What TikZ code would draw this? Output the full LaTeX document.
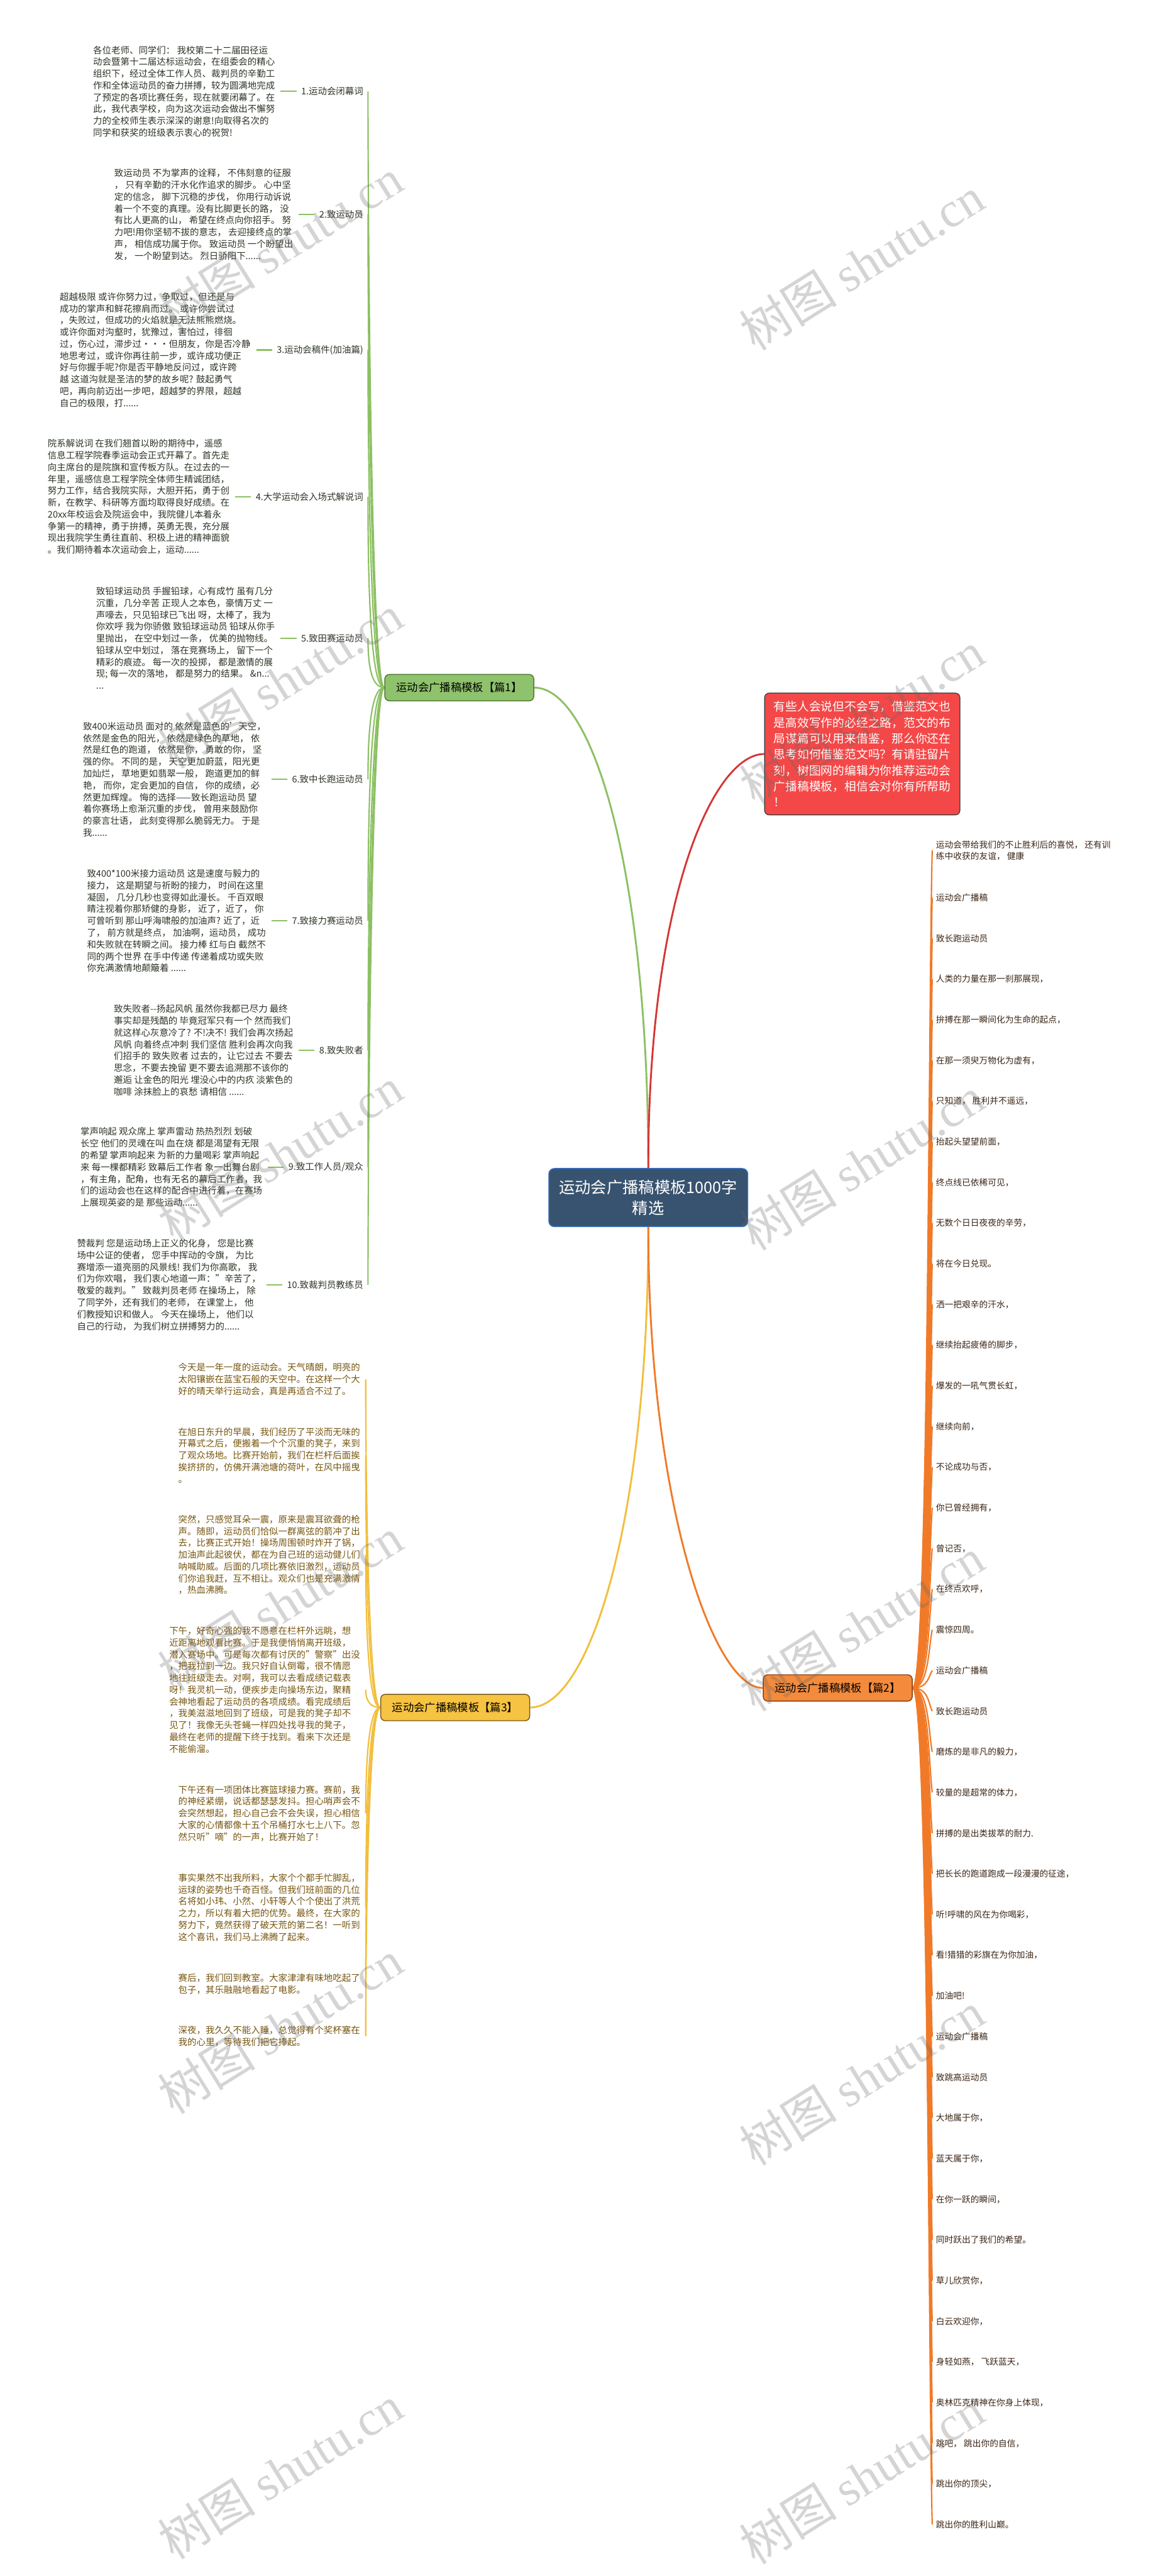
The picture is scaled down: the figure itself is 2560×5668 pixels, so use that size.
\documentclass[tikz,border=0pt]{standalone}
\usepackage{fontspec}
\setmainfont{Noto Sans CJK SC}
\newfontfamily\wmfont{Liberation Serif}
\usetikzlibrary{calc}
\pgfdeclarelayer{paper}
\pgfdeclarelayer{bg}
\pgfdeclarelayer{fg}
\pgfsetlayers{paper,bg,main,fg}
\definecolor{gline}{HTML}{8CC063}
\definecolor{gfill}{HTML}{8FC26C}
\definecolor{gdark}{HTML}{4F7A32}
\definecolor{oline}{HTML}{F07A28}
\definecolor{ofill}{HTML}{F38A3C}
\definecolor{odark}{HTML}{8A3E0C}
\definecolor{yline}{HTML}{F2BE3C}
\definecolor{yfill}{HTML}{F6C342}
\definecolor{ydark}{HTML}{7A5A0E}
\definecolor{rline}{HTML}{D63535}
\definecolor{rfill}{HTML}{F44848}
\definecolor{cfill}{HTML}{38536F}
\definecolor{cdark}{HTML}{3A74C4}
\definecolor{gtext}{HTML}{2D3527}
\definecolor{ytext}{HTML}{77560F}
\definecolor{otext}{HTML}{3A2516}
\begin{document}
\begin{tikzpicture}[x=0.5pt,y=-0.5pt,
  body/.style={font=\fontsize{10pt}{13pt}\selectfont, align=left, inner xsep=6pt, inner ysep=2pt},
  gbody/.style={body, text=gtext, anchor=east},
  ybody/.style={body, text=ytext, anchor=east},
  glabel/.style={font=\fontsize{10pt}{13pt}\selectfont, text=gtext, inner xsep=5pt, inner ysep=2pt, anchor=east},
  leaf/.style={font=\fontsize{9.5pt}{12.5pt}\selectfont, text=otext, anchor=west, inner xsep=4pt, inner ysep=2pt, align=left},
  bnode/.style={rounded corners=5pt, line width=1pt, minimum width=164pt, minimum height=29pt, font=\fontsize{12pt}{14pt}\selectfont, inner xsep=6pt, text=black},
  ctrnode/.style={rounded corners=6pt, fill=cfill, draw=cdark, line width=1pt, minimum width=219pt, minimum height=64pt, text=white, align=center, font=\fontsize{17.5pt}{23pt}\selectfont},
  tipnode/.style={rounded corners=5pt, fill=rfill, draw=black!80, line width=0.8pt, minimum width=215pt, minimum height=134pt, text=white, align=left, font=\fontsize{13pt}{17.5pt}\selectfont, inner xsep=7pt},
  mainline/.style={line width=2pt},
  gcurve/.style={draw=gline, line width=1.5pt},
  ycurve/.style={draw=yline, line width=1.5pt},
  ocurve/.style={draw=oline, line width=1.5pt},
  gshort/.style={draw=gline, line width=1.5pt},
  wm/.style={rotate=32, text=black!60, opacity=0.28, font=\fontsize{54pt}{54pt}\selectfont, inner sep=0pt}
]
\useasboundingbox (0,0) rectangle (2560,5668);
\begin{pgfonlayer}{paper}
\fill[white] (0,0) rectangle (2560,5668);
\end{pgfonlayer}

% ---------- central and first-level nodes ----------
\node[ctrnode] (ctr) at (1427,2635) {运动会广播稿模板1000字\\精选};
\node[tipnode] (tip) at (1898,1659) {有些人会说但不会写，借鉴范文也\\是高效写作的必经之路，范文的布\\局谋篇可以用来借鉴，那么你还在\\思考如何借鉴范文吗？有请驻留片\\刻，树图网的编辑为你推荐运动会\\广播稿模板，相信会对你有所帮助\\！};
\node[bnode, fill=gfill, draw=gdark] (b1) at (1011,1513) {运动会广播稿模板【篇1】};
\node[bnode, fill=ofill, draw=odark] (b2) at (1844,3714) {运动会广播稿模板【篇2】};
\node[bnode, fill=yfill, draw=ydark] (b3) at (1002,3757) {运动会广播稿模板【篇3】};

\begin{pgfonlayer}{bg}
\draw[gline, mainline] (ctr.north) .. controls +(0,-650) and +(130,0) .. (b1.east);
\draw[rline, mainline] (ctr.north) .. controls +(0,-600) and +(-110,0) .. (tip.west);
\draw[yline, mainline] (ctr.south) .. controls +(0,650) and +(130,0) .. (b3.east);
\draw[oline, mainline] (ctr.south) .. controls +(0,600) and +(-110,0) .. (b2.west);
\end{pgfonlayer}

% ---------- branch 1 ----------
\node[glabel] (l1) at (810,201) {1.运动会闭幕词};
\node[gbody] (t1) at ($(l1.west)+(-35,0)$) {各位老师、同学们： 我校第二十二届田径运\\动会暨第十二届达标运动会，在组委会的精心\\组织下，经过全体工作人员、裁判员的辛勤工\\作和全体运动员的奋力拼搏，较为圆满地完成\\了预定的各项比赛任务，现在就要闭幕了。在\\此，我代表学校，向为这次运动会做出不懈努\\力的全校师生表示深深的谢意!向取得名次的\\同学和获奖的班级表示衷心的祝贺!};

\node[glabel] (l2) at (810,472) {2.致运动员};
\node[gbody] (t2) at ($(l2.west)+(-35,0)$) {致运动员 不为掌声的诠释， 不伟刻意的征服\\， 只有辛勤的汗水化作追求的脚步。 心中坚\\定的信念， 脚下沉稳的步伐， 你用行动诉说\\着一个不变的真理。没有比脚更长的路， 没\\有比人更高的山， 希望在终点向你招手。 努\\力吧!用你坚韧不拔的意志， 去迎接终点的掌\\声， 相信成功属于你。 致运动员 一个盼望出\\发， 一个盼望到达。 烈日骄阳下......};

\node[glabel] (l3) at (810,770) {3.运动会稿件(加油篇)};
\node[gbody] (t3) at ($(l3.west)+(-35,0)$) {超越极限 或许你努力过，争取过，但还是与\\成功的掌声和鲜花擦肩而过。 或许你尝试过\\，失败过，但成功的火焰就是无法熊熊燃烧。\\或许你面对沟壑时，犹豫过，害怕过，徘徊\\过，伤心过，滞步过···但朋友，你是否冷静\\地思考过，或许你再往前一步，或许成功便正\\好与你握手呢?你是否平静地反问过，或许跨\\越 这道沟就是圣洁的梦的故乡呢? 鼓起勇气\\吧，再向前迈出一步吧，超越梦的界限，超越\\自己的极限，打......};

\node[glabel] (l4) at (810,1093) {4.大学运动会入场式解说词};
\node[gbody] (t4) at ($(l4.west)+(-35,0)$) {院系解说词 在我们翘首以盼的期待中，遥感\\信息工程学院春季运动会正式开幕了。首先走\\向主席台的是院旗和宣传板方队。在过去的一\\年里，遥感信息工程学院全体师生精诚团结，\\努力工作，结合我院实际，大胆开拓，勇于创\\新，在教学、科研等方面均取得良好成绩。在\\20xx年校运会及院运会中，我院健儿本着永\\争第一的精神，勇于拚搏，英勇无畏，充分展\\现出我院学生勇往直前、积极上进的精神面貌\\。我们期待着本次运动会上，运动......};

\node[glabel] (l5) at (810,1404) {5.致田赛运动员};
\node[gbody] (t5) at ($(l5.west)+(-35,0)$) {致铅球运动员 手握铅球，心有成竹 虽有几分\\沉重，几分辛苦 正现人之本色，豪情万丈 一\\声嚎去，只见铅球已飞出 呀，太棒了，我为\\你欢呼 我为你骄傲 致铅球运动员 铅球从你手\\里抛出， 在空中划过一条， 优美的抛物线。\\铅球从空中划过， 落在竞赛场上， 留下一个\\精彩的痕迹。 每一次的投掷， 都是激情的展\\现; 每一次的落地， 都是努力的结果。 \&n...\\...};

\node[glabel] (l6) at (810,1715) {6.致中长跑运动员};
\node[gbody] (t6) at ($(l6.west)+(-35,0)$) {致400米运动员 面对的 依然是蓝色的'天空，\\依然是金色的阳光， 依然是绿色的草地， 依\\然是红色的跑道， 依然是你， 勇敢的你， 坚\\强的你。 不同的是， 天空更加蔚蓝，阳光更\\加灿烂， 草地更如翡翠一般， 跑道更加的鲜\\艳， 而你，定会更加的自信， 你的成绩，必\\然更加辉煌。 悔的选择——致长跑运动员 望\\着你赛场上愈渐沉重的步伐， 曾用来鼓励你\\的豪言壮语， 此刻变得那么脆弱无力。 于是\\我......};

\node[glabel] (l7) at (810,2026) {7.致接力赛运动员};
\node[gbody] (t7) at ($(l7.west)+(-35,0)$) {致400*100米接力运动员 这是速度与毅力的\\接力， 这是期望与祈盼的接力， 时间在这里\\凝固， 几分几秒也变得如此漫长。 千百双眼\\睛注视着你那矫健的身影， 近了，近了， 你\\可曾听到 那山呼海啸般的加油声? 近了，近\\了， 前方就是终点， 加油啊，运动员， 成功\\和失败就在转瞬之间。 接力棒 红与白 截然不\\同的两个世界 在手中传递 传递着成功或失败\\你充满激情地颠簸着 ......};

\node[glabel] (l8) at (810,2311) {8.致失败者};
\node[gbody] (t8) at ($(l8.west)+(-35,0)$) {致失败者{-}{-}扬起风帆 虽然你我都已尽力 最终\\事实却是残酷的 毕竟冠军只有一个 然而我们\\就这样心灰意冷了? 不!决不! 我们会再次扬起\\风帆 向着终点冲刺 我们坚信 胜利会再次向我\\们招手的 致失败者 过去的，让它过去 不要去\\思念，不要去挽留 更不要去追溯那不该你的\\邂逅 让金色的阳光 埋没心中的内疚 淡紫色的\\咖啡 涂抹脸上的哀愁 请相信 ......};

\node[glabel] (l9) at (810,2568) {9.致工作人员/观众};
\node[gbody] (t9) at ($(l9.west)+(-35,0)$) {掌声响起 观众席上 掌声雷动 热热烈烈 划破\\长空 他们的灵魂在叫 血在烧 都是渴望有无限\\的希望 掌声响起来 为新的力量喝彩 掌声响起\\来 每一棵都精彩 致幕后工作者 象一出舞台剧\\，有主角，配角，也有无名的幕后工作者，我\\们的运动会也在这样的配合中进行着，在赛场\\上展现英姿的是 那些运动......};

\node[glabel] (l10) at (810,2827) {10.致裁判员教练员};
\node[gbody] (t10) at ($(l10.west)+(-35,0)$) {赞裁判 您是运动场上正义的化身， 您是比赛\\场中公证的使者， 您手中挥动的令旗， 为比\\赛增添一道亮丽的风景线! 我们为你高歌， 我\\们为你欢唱， 我们衷心地道一声："辛苦了，\\敬爱的裁判。" 致裁判员老师 在操场上， 除\\了同学外，还有我们的老师， 在课堂上， 他\\们教授知识和做人。 今天在操场上， 他们以\\自己的行动， 为我们树立拼搏努力的......};

\begin{pgfonlayer}{bg}
\foreach \n/\k in {1/250,2/250,3/250,4/200,5/55,6/-100,7/-250,8/-250,9/-250,10/-250}{
  \draw[gshort] (t\n.east) -- (l\n.west);
  \draw[gcurve] (b1.west) .. controls +(-30,0) and +(0,\k) .. (l\n.east);
}
\end{pgfonlayer}

% ---------- branch 3 ----------
\node[ybody] (y1) at (805,3035) {今天是一年一度的运动会。天气晴朗，明亮的\\太阳镶嵌在蓝宝石般的天空中。在这样一个大\\好的晴天举行运动会，真是再适合不过了。};
\node[ybody] (y2) at (805,3202) {在旭日东升的早晨，我们经历了平淡而无味的\\开幕式之后，便搬着一个个沉重的凳子，来到\\了观众场地。比赛开始前，我们在栏杆后面挨\\挨挤挤的，仿佛开满池塘的荷叶，在风中摇曳\\。};
\node[ybody] (y3) at (805,3421) {突然，只感觉耳朵一震，原来是震耳欲聋的枪\\声。随即，运动员们恰似一群离弦的箭冲了出\\去，比赛正式开始！操场周围顿时炸开了锅，\\加油声此起彼伏，都在为自己班的运动健儿们\\呐喊助威。后面的几项比赛依旧激烈，运动员\\们你追我赶，互不相让。观众们也是充满激情\\，热血沸腾。};
\node[ybody] (y4) at (805,3718) {下午，好奇心强的我不愿意在栏杆外远眺，想\\近距离地观看比赛。于是我便悄悄离开班级，\\潜入赛场中。可是每次都有讨厌的"警察"出没\\，把我拉到一边。我只好自认倒霉，很不情愿\\地往班级走去。对啊，我可以去看成绩记载表\\呀！我灵机一动，便疾步走向操场东边，聚精\\会神地看起了运动员的各项成绩。看完成绩后\\，我美滋滋地回到了班级，可是我的凳子却不\\见了！我像无头苍蝇一样四处找寻我的凳子，\\最终在老师的提醒下终于找到。看来下次还是\\不能偷溜。};
\node[ybody] (y5) at (805,3990) {下午还有一项团体比赛篮球接力赛。赛前，我\\的神经紧绷，说话都瑟瑟发抖。担心哨声会不\\会突然想起，担心自己会不会失误，担心相信\\大家的心情都像十五个吊桶打水七上八下。忽\\然只听"嘀"的一声，比赛开始了！};
\node[ybody] (y6) at (805,4197) {事实果然不出我所料，大家个个都手忙脚乱，\\运球的姿势也千奇百怪。但我们班前面的几位\\名将如小玮、小然、小轩等人个个使出了洪荒\\之力，所以有着大把的优势。最终，在大家的\\努力下，竟然获得了破天荒的第二名！一听到\\这个喜讯，我们马上沸腾了起来。};
\node[ybody] (y7) at (805,4365) {赛后，我们回到教室。大家津津有味地吃起了\\包子，其乐融融地看起了电影。};
\node[ybody] (y8) at (805,4480) {深夜，我久久不能入睡，总觉得有个奖杯塞在\\我的心里，等待我们把它捧起。};

\begin{pgfonlayer}{bg}
\foreach \n/\k in {1/250,2/250,3/170,4/20,5/-115,6/-200,7/-250,8/-250}{
  \draw[ycurve] (b3.west) .. controls +(-25,0) and +(0,\k) .. (y\n.east);
}
\end{pgfonlayer}

% ---------- branch 2 ----------
\node[leaf] (L1) at (2052,1871) {运动会带给我们的不止胜利后的喜悦， 还有训\\练中收获的友谊， 健康};
\begin{pgfonlayer}{bg}
\draw[ocurve] (b2.east) .. controls +(35,0) and +(-8,300) .. (L1.west);
\end{pgfonlayer}
\foreach \t [count=\i from 2] in {运动会广播稿, 致长跑运动员, 人类的力量在那一刹那展现，, 拚搏在那一瞬间化为生命的起点，, 在那一须臾万物化为虚有，, 只知道， 胜利并不遥远，, 抬起头望望前面，, 终点线已依稀可见，, 无数个日日夜夜的辛劳，, 将在今日兑现。, 洒一把艰辛的汗水，, 继续抬起疲倦的脚步，, 爆发的一吼气贯长虹，, 继续向前，, 不论成功与否，, 你已曾经拥有，, 曾记否，, 在终点欢呼，, 震惊四周。, 运动会广播稿, 致长跑运动员, 磨炼的是非凡的毅力，, 较量的是超常的体力，, 拼搏的是出类拔萃的耐力., 把长长的跑道跑成一段漫漫的征途，, 听!呼啸的风在为你喝彩，, 看!猎猎的彩旗在为你加油，, 加油吧!, 运动会广播稿, 致跳高运动员, 大地属于你，, 蓝天属于你，, 在你一跃的瞬间，, 同时跃出了我们的希望。, 草儿欣赏你，, 白云欢迎你，, 身轻如燕， 飞跃蓝天，, 奥林匹克精神在你身上体现，, 跳吧， 跳出你的自信，, 跳出你的顶尖，, 跳出你的胜利山巅。}{
  \pgfmathsetmacro\yy{1975+(\i-2)*89.5}
  \pgfmathsetmacro\kk{max(min(0.3*(3714-\yy),300),-300)}
  \node[leaf] (L\i) at (2052,\yy) {\t};
  \begin{pgfonlayer}{bg}
  \draw[ocurve] (b2.east) .. controls +(35,0) and +(-8,\kk) .. (L\i.west);
  \end{pgfonlayer}
}

% ---------- watermarks ----------
\begin{pgfonlayer}{fg}
\foreach \x/\y [count=\w] in {617/540,617/1500,617/2540,617/3530,617/4460,617/5440,1897/580,1897/1580,1897/2560,1897/3574,1897/4573,1897/5450}{
  \node[wm] (wm\w) at (\x,\y) {树图 {\wmfont shutu.cn}};
}
\end{pgfonlayer}
\end{tikzpicture}
\end{document}
